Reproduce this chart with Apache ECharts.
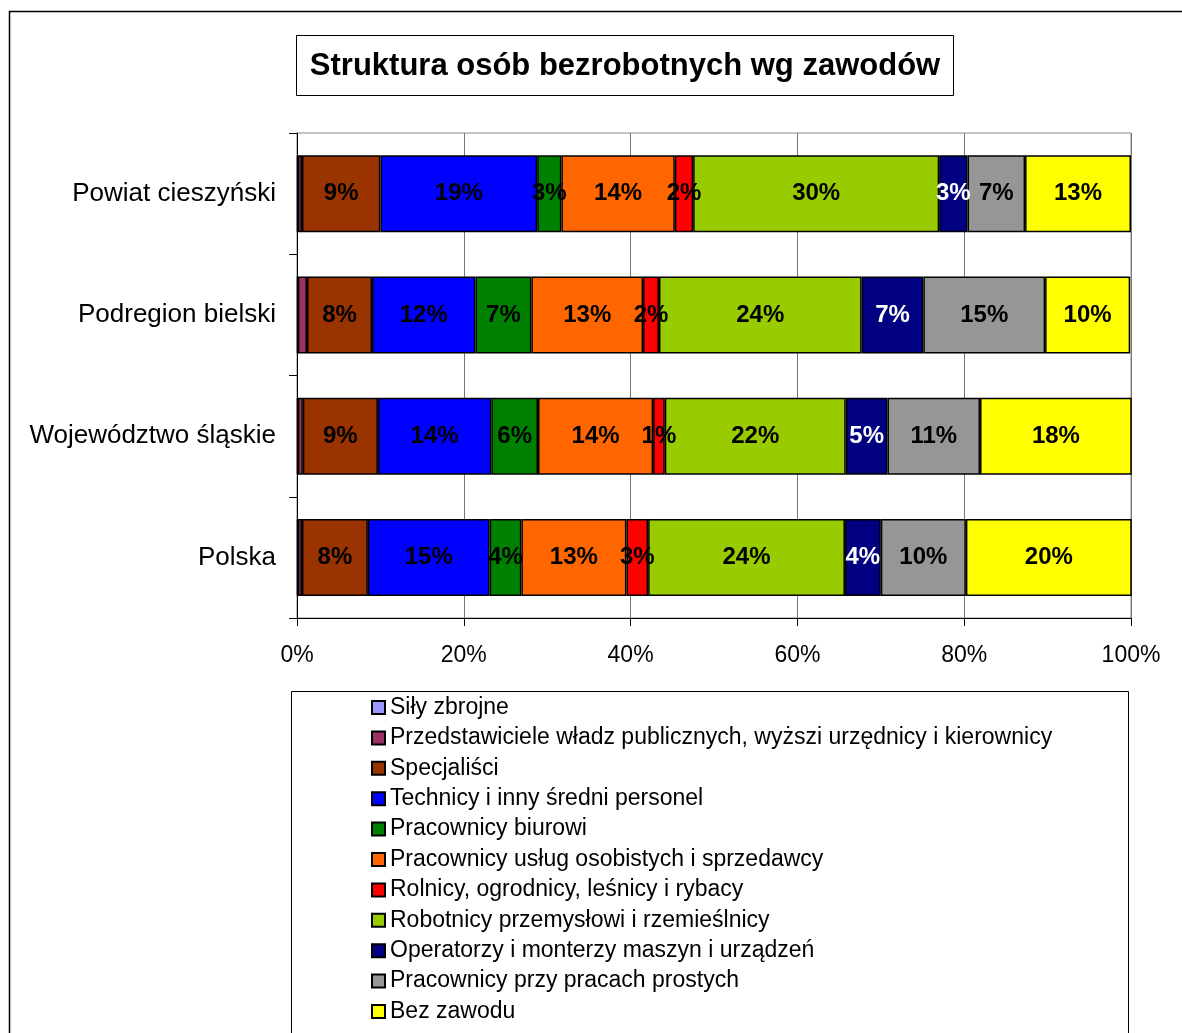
<!DOCTYPE html>
<html>
<head>
<meta charset="utf-8">
<script src="https://cdn.jsdelivr.net/npm/echarts@6/dist/echarts.min.js"></script>
<style>
  html, body { margin: 0; padding: 0; background: #fff; }
  #chart { width: 1182px; height: 1033px; }
</style>
</head>
<body>
<div id="chart"></div>
<script>
// regions, bottom to top as drawn on the axis
var regions = ['Polska', 'Województwo śląskie', 'Podregion bielski', 'Powiat cieszyński']

var occupations = [
  'Siły zbrojne',
  'Przedstawiciele władz publicznych, wyższi urzędnicy i kierownicy',
  'Specjaliści',
  'Technicy i inny średni personel',
  'Pracownicy biurowi',
  'Pracownicy usług osobistych i sprzedawcy',
  'Rolnicy, ogrodnicy, leśnicy i rybacy',
  'Robotnicy przemysłowi i rzemieślnicy',
  'Operatorzy i monterzy maszyn i urządzeń',
  'Pracownicy przy pracach prostych',
  'Bez zawodu'
]

// shares in % per occupation, order as regions
var silyZbrojne = [0.1, 0.1, 0.1, 0.1]
var przedstawiciele = [0.5, 0.6, 1.1, 0.5]
var specjalisci = [7.9, 9.0, 7.8, 9.4]
var technicy = [14.6, 13.6, 12.4, 18.8]
var biurowi = [3.8, 5.6, 6.7, 2.9]
var uslugi = [12.6, 13.8, 13.4, 13.6]
var rolnicy = [2.6, 1.4, 1.9, 2.2]
var robotnicy = [23.6, 21.7, 24.3, 29.5]
var operatorzy = [4.3, 5.0, 7.4, 3.4]
var proste = [10.2, 11.1, 14.6, 6.9]
var bezZawodu = [20.2, 18.3, 10.2, 12.7]

var xTicks = ['0%', '20%', '40%', '60%', '80%', '100%']

var seriesData = [silyZbrojne, przedstawiciele, specjalisci, technicy, biurowi,
  uslugi, rolnicy, robotnicy, operatorzy, proste, bezZawodu]
var colors = ['#9999FF', '#993366', '#993300', '#0000FF', '#008000',
  '#FF6600', '#FF0000', '#99CC00', '#000080', '#969696', '#FFFF00']

var font = '"Liberation Sans", Arial, sans-serif'

var chart = echarts.init(document.getElementById('chart'))

var series = seriesData.map(function (d, i) {
  return {
    name: occupations[i],
    type: 'bar',
    stack: 'all',
    barWidth: 77,
    data: d,
    itemStyle: { color: colors[i], borderColor: '#000', borderWidth: 1.5 },
    label: {
      show: i > 1,
      position: 'inside',
      fontFamily: font,
      fontSize: 24,
      fontWeight: 'bold',
      color: i === 8 ? '#fff' : '#000',
      formatter: function (p) { return Math.round(p.value) + '%' }
    },
    emphasis: { disabled: true }
  }
})

chart.setOption({
  animation: false,
  backgroundColor: '#fff',
  color: colors,
  grid: {
    left: 297, right: 51, top: 133, bottom: 415,
    show: true, borderColor: '#888', borderWidth: 1
  },
  xAxis: {
    type: 'value',
    min: 0, max: 100, interval: 20,
    axisLine: { show: true, lineStyle: { color: '#000', width: 1 } },
    axisTick: { show: true, length: 8, lineStyle: { color: '#000' } },
    splitLine: { show: true, lineStyle: { color: '#777', width: 1 } },
    axisLabel: {
      margin: 26,
      fontFamily: font, fontSize: 23, color: '#000',
      formatter: function (v) { return xTicks[v / 20] }
    }
  },
  yAxis: {
    type: 'category',
    data: regions,
    axisLine: { show: true, lineStyle: { color: '#000', width: 1 } },
    axisTick: { show: true, length: 8, lineStyle: { color: '#000' } },
    axisLabel: { margin: 21, fontFamily: font, fontSize: 26, color: '#000' }
  },
  legend: {
    orient: 'vertical',
    left: 371, top: 696,
    height: 400,
    padding: 0,
    icon: 'rect',
    itemWidth: 13, itemHeight: 13,
    itemGap: 7.4,
    selectedMode: false,
    data: occupations,
    textStyle: { fontFamily: font, fontSize: 23, lineHeight: 23, color: '#000' }
  },
  graphic: [
    {
      type: 'rect', silent: true, z: -10,
      shape: { x: 9.5, y: 11.5, width: 1200, height: 1100 },
      style: { fill: null, stroke: '#000', lineWidth: 1.5 }
    },
    {
      type: 'rect', silent: true,
      shape: { x: 296.5, y: 35.5, width: 657, height: 60 },
      style: { fill: '#fff', stroke: '#000', lineWidth: 1 }
    },
    {
      type: 'text', silent: true,
      x: 625, y: 66,
      style: {
        text: 'Struktura osób bezrobotnych wg zawodów',
        fontFamily: font, fontSize: 31, fontWeight: 'bold', fill: '#000',
        align: 'center', verticalAlign: 'middle'
      }
    },
    {
      type: 'rect', silent: true, z: -5,
      shape: { x: 291.5, y: 691.5, width: 837, height: 400 },
      style: { fill: '#fff', stroke: '#000', lineWidth: 1 }
    }
  ],
  series: series
})
</script>
</body>
</html>
